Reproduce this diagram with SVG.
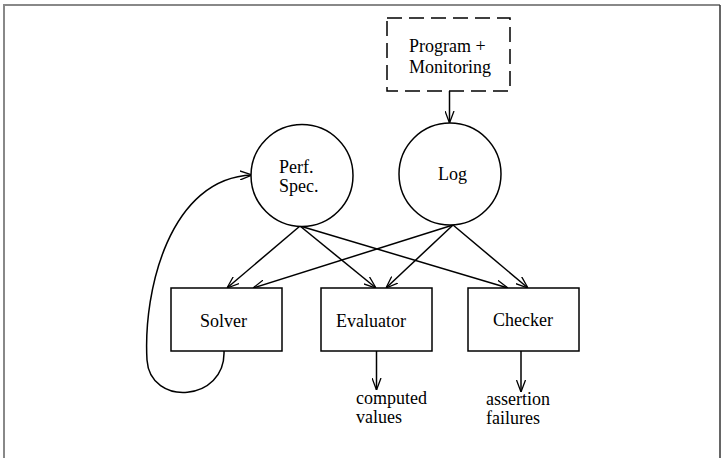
<svg xmlns="http://www.w3.org/2000/svg" width="728" height="458" viewBox="0 0 728 458">
<style>
.s{fill:none;stroke:#000;stroke-width:1.5}
.n{fill:#fff;stroke:#000;stroke-width:1.5}
.t{font-family:"Liberation Serif","Times New Roman",serif;font-size:18px;fill:#000}
</style>
<defs>
<marker id="a" viewBox="0 0 12 10" refX="12" refY="5" markerWidth="12" markerHeight="10" markerUnits="userSpaceOnUse" orient="auto">
<path d="M0,0.5 L12,5 L0,9.5" fill="none" stroke="#000" stroke-width="1.3"/>
</marker>
</defs>
<rect width="728" height="458" fill="#fff"/>
<path d="M4,460 V5 H720" fill="none" stroke="#888" stroke-width="2"/>
<path d="M720,5 V460" fill="none" stroke="#333" stroke-width="1.5"/>
<g id="connectors">
<path class="s" d="M449.5,91 V123" marker-end="url(#a)"/>
<path class="s" d="M300,226 L227,288" marker-end="url(#a)"/>
<path class="s" d="M300,226 L376,288" marker-end="url(#a)"/>
<path class="s" d="M300,226 L508,288" marker-end="url(#a)"/>
<path class="s" d="M453,225 L253,288" marker-end="url(#a)"/>
<path class="s" d="M453,225 L386,288" marker-end="url(#a)"/>
<path class="s" d="M453,225 L528,288" marker-end="url(#a)"/>
<path class="s" d="M224,351 C226,402 150,407 147,360 C143,290 170,178 252,175" marker-end="url(#a)"/>
<path class="s" d="M376.5,351 V390" marker-end="url(#a)"/>
<path class="s" d="M521,351 V392" marker-end="url(#a)"/>
</g>
<g id="program">
<rect x="387" y="18" width="123" height="73" fill="#fff" stroke="#000" stroke-width="1.5" stroke-dasharray="15,7"/>
<text class="t" x="409" y="52">Program +</text>
<text class="t" x="409" y="73">Monitoring</text>
</g>
<g id="perfspec">
<circle class="n" cx="302" cy="175.5" r="51"/>
<text class="t" x="279" y="173">Perf.</text>
<text class="t" x="279" y="192">Spec.</text>
</g>
<g id="log">
<circle class="n" cx="450" cy="174" r="51"/>
<text class="t" x="438" y="180">Log</text>
</g>
<g id="solver">
<rect class="n" x="171" y="288" width="111" height="63"/>
<text class="t" x="200" y="327">Solver</text>
</g>
<g id="evaluator">
<rect class="n" x="321" y="288" width="111" height="63"/>
<text class="t" x="336" y="327">Evaluator</text>
</g>
<g id="checker">
<rect class="n" x="468" y="288" width="111" height="63"/>
<text class="t" x="493" y="326">Checker</text>
</g>
<g id="outputs">
<text class="t" x="356" y="404">computed</text>
<text class="t" x="356" y="423">values</text>
<text class="t" x="486" y="405">assertion</text>
<text class="t" x="486" y="424">failures</text>
</g>
</svg>
